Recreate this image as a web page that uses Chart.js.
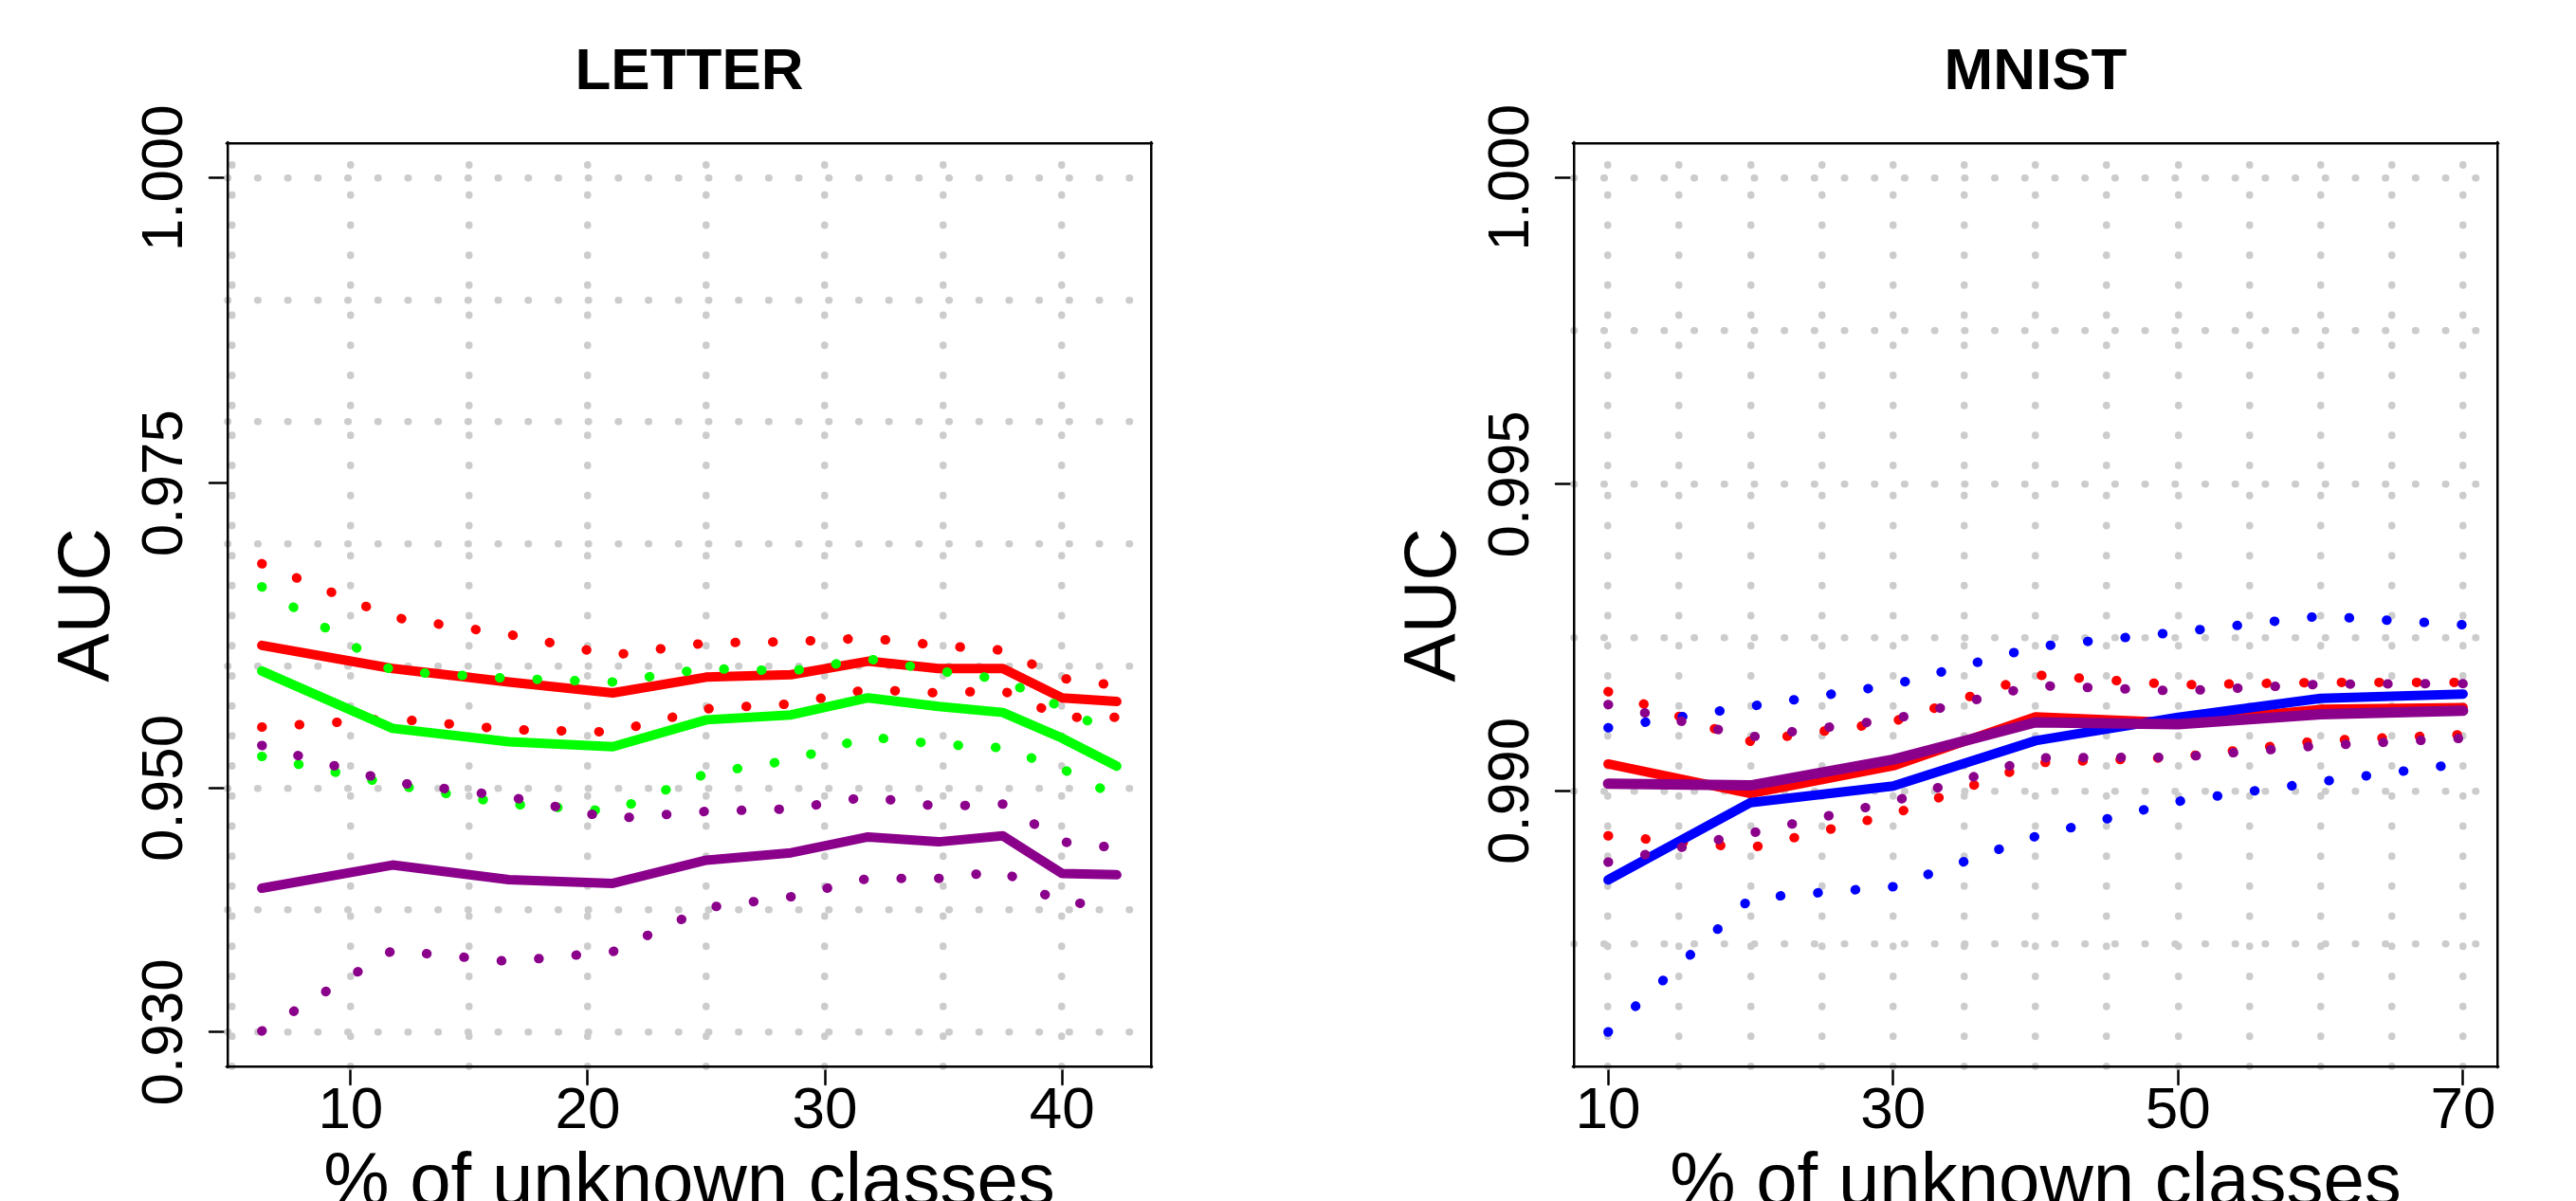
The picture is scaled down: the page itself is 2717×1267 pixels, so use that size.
<!DOCTYPE html>
<html>
<head>
<meta charset="utf-8">
<script src="https://cdn.jsdelivr.net/npm/chart.js@4.4.1/dist/chart.umd.min.js"></script>
<style>
html,body{margin:0;padding:0;background:#ffffff;overflow:hidden;width:2717px;height:1267px;}
#c1{position:absolute;left:0;top:0;}
#c2{position:absolute;left:1358px;top:0;}
</style>
</head>
<body>
<canvas id="c1" width="1358" height="1267"></canvas>
<canvas id="c2" width="1359" height="1267"></canvas>
<script>
// ---------------- LETTER ----------------
const letterX = [6.25, 11.7647, 16.6667, 21.0526, 25, 28.5714, 31.8182, 34.7826, 37.5, 40, 42.3077];
const letterRedMean    = [0.9617, 0.9598, 0.9587, 0.9578, 0.9591, 0.9593, 0.9604, 0.9598, 0.9598, 0.9574, 0.9571];
const letterRedUpper   = [0.9684, 0.9640, 0.9626, 0.9609, 0.9619, 0.9620, 0.9623, 0.9617, 0.9613, 0.9590, 0.9584];
const letterRedLower   = [0.9550, 0.9557, 0.9548, 0.9546, 0.9565, 0.9569, 0.9581, 0.9578, 0.9580, 0.9558, 0.9558];
const letterGreenMean  = [0.9596, 0.9549, 0.9538, 0.9534, 0.9556, 0.9560, 0.9574, 0.9567, 0.9562, 0.9541, 0.9518];
const letterGreenUpper = [0.9665, 0.9596, 0.9590, 0.9587, 0.9598, 0.9596, 0.9606, 0.9596, 0.9589, 0.9566, 0.9543];
const letterGreenLower = [0.9526, 0.9503, 0.9487, 0.9481, 0.9512, 0.9523, 0.9542, 0.9536, 0.9533, 0.9516, 0.9493];
const letterPurpleMean = [0.9418, 0.9437, 0.9425, 0.9422, 0.9441, 0.9447, 0.9460, 0.9456, 0.9461, 0.9430, 0.9429];
const letterPurpleUpper= [0.9535, 0.9505, 0.9493, 0.9475, 0.9481, 0.9483, 0.9493, 0.9485, 0.9487, 0.9456, 0.9451];
const letterPurpleLower= [0.9301, 0.9367, 0.9358, 0.9366, 0.9402, 0.9411, 0.9426, 0.9426, 0.9432, 0.9405, 0.9407];
const letterXTicks = [10, 20, 30, 40];
const letterYTicks = [0.93, 0.95, 0.975, 1.0];
const letterYTickLabels = ['0.930', '0.950', '0.975', '1.000'];
const letterXGrid = [5, 10, 15, 20, 25, 30, 35, 40];
const letterYGrid = [0.93, 0.94, 0.95, 0.96, 0.97, 0.98, 0.99, 1.0];

// ---------------- MNIST ----------------
const mnistX = [10, 20, 30, 40, 50, 60, 70];
const mnistRedMean    = [0.99044, 0.98996, 0.99041, 0.99121, 0.99111, 0.99133, 0.99136];
const mnistRedUpper   = [0.99162, 0.99081, 0.99113, 0.99189, 0.99173, 0.99177, 0.99177];
const mnistRedLower   = [0.98927, 0.98907, 0.98962, 0.99046, 0.99055, 0.99082, 0.99092];
const mnistBlueMean   = [0.98855, 0.98981, 0.99008, 0.99082, 0.99120, 0.99151, 0.99158];
const mnistBlueUpper  = [0.99103, 0.99138, 0.99173, 0.99235, 0.99259, 0.99285, 0.99271];
const mnistBlueLower  = [0.98607, 0.98825, 0.98844, 0.98926, 0.98983, 0.99015, 0.99045];
const mnistPurpleMean = [0.99012, 0.99009, 0.99051, 0.99112, 0.99109, 0.99125, 0.99131];
const mnistPurpleUpper= [0.99141, 0.99088, 0.99117, 0.99172, 0.99163, 0.99174, 0.99175];
const mnistPurpleLower= [0.98884, 0.98931, 0.98983, 0.99054, 0.99055, 0.99074, 0.99086];
const mnistXTicks = [10, 30, 50, 70];
const mnistYTicks = [0.99, 0.995, 1.0];
const mnistYTickLabels = ['0.990', '0.995', '1.000'];
const mnistXGrid = [10, 15, 20, 25, 30, 35, 40, 45, 50, 55, 60, 65, 70];
const mnistYGrid = [0.9875, 0.99, 0.9925, 0.995, 0.9975, 1.0];

const RED = '#ff0000', GREEN = '#00ff00', BLUE = '#0000ff', PURPLE = '#8b008b';
const FONT = "'Liberation Sans', Arial, Helvetica, sans-serif";

function pts(xs, ys) { return xs.map((x, i) => ({x: x, y: ys[i]})); }
function solid(xs, ys, color, order, w) {
  return {data: pts(xs, ys), borderColor: color, backgroundColor: color, borderWidth: w || 10,
    borderCapStyle: 'round', borderJoinStyle: 'round', pointRadius: 0, pointHoverRadius: 0,
    tension: 0, fill: false, order: order};
}
function dotted(xs, ys, color, order) {
  return {data: pts(xs, ys), borderColor: color, backgroundColor: color, borderWidth: 10,
    borderDash: [0.5, 39.1], borderDashOffset: 0,
    borderCapStyle: 'round', borderJoinStyle: 'round', pointRadius: 0, pointHoverRadius: 0,
    tension: 0, fill: false, order: order};
}
function zeroPad(s) { s.paddingLeft = 0; s.paddingRight = 0; s.paddingTop = 0; s.paddingBottom = 0; }
function setTicks(vals) { return function (s) { s.ticks = vals.map(v => ({value: v})); }; }

const roundCap = {id: 'roundCap', beforeDraw(chart) { chart.ctx.lineCap = 'round'; }};

function makeChart(id, o) {
  return new Chart(document.getElementById(id), {
    type: 'line',
    data: {datasets: o.datasets},
    options: {
      responsive: false, animation: false, devicePixelRatio: 1, events: [],
      layout: {padding: {left: 0, top: 0, right: o.rightPad, bottom: 0}},
      plugins: {
        legend: {display: false},
        tooltip: {enabled: false},
        title: {display: true, text: o.title, fullSize: false, color: '#000',
          font: {family: FONT, size: 62, weight: 'bold'}, padding: {top: 40, bottom: 37.3}}
      },
      scales: {
        x: {
          type: 'linear', position: 'bottom', min: o.xMin, max: o.xMax, bounds: 'data',
          afterBuildTicks: setTicks(o.xTicks),
          ticks: {autoSkip: false, color: '#000', font: {family: FONT, size: 62}, padding: -8.7,
            minRotation: 0, maxRotation: 0, callback: v => String(v)},
          grid: {display: true, drawOnChartArea: false, drawTicks: true, tickLength: 19, tickWidth: 2.5, tickColor: '#000'},
          border: {display: true, color: '#000', width: 2.5},
          title: {display: true, text: '% of unknown classes', color: '#000',
            font: {family: FONT, size: 78}, padding: {top: 0, bottom: -29.6}},
          afterFit: s => { s.height = 142; zeroPad(s); }
        },
        y: {
          type: 'linear', position: 'left', min: o.yMin, max: o.yMax, bounds: 'data',
          afterBuildTicks: setTicks(o.yTicks),
          ticks: {autoSkip: false, color: '#000', font: {family: FONT, size: 62}, padding: -31.75,
            minRotation: 90, maxRotation: 90, crossAlign: 'center',
            callback: (v, i) => o.yTickLabels[i]},
          grid: {display: true, drawOnChartArea: false, drawTicks: true, tickLength: 19, tickWidth: 2.5, tickColor: '#000'},
          border: {display: true, color: '#000', width: 2.5},
          title: {display: true, text: 'AUC', color: '#000',
            font: {family: FONT, size: 77}, padding: {top: o.aucPad, bottom: 0}},
          afterFit: s => { s.width = o.yAxisW; zeroPad(s); }
        },
        xg: {
          type: 'linear', position: 'bottom', min: o.xMin, max: o.xMax, bounds: 'data',
          afterBuildTicks: setTicks(o.xGrid),
          ticks: {display: false},
          grid: {display: true, drawOnChartArea: true, drawTicks: false, color: '#cccccc', lineWidth: 7.5},
          border: {display: false, dash: [0.5, 31.2], dashOffset: 9.6},
          afterFit: s => { s.height = 0; zeroPad(s); }
        },
        yg: {
          type: 'linear', position: 'left', min: o.yMin, max: o.yMax, bounds: 'data',
          afterBuildTicks: setTicks(o.yGrid),
          ticks: {display: false},
          grid: {display: true, drawOnChartArea: true, drawTicks: false, color: '#cccccc', lineWidth: 7.5},
          border: {display: false, dash: [0.5, 31.2], dashOffset: 0},
          afterFit: s => { s.width = 0; zeroPad(s); }
        },
        xt: {
          type: 'linear', position: 'top', display: true,
          ticks: {display: false},
          grid: {display: false, drawTicks: false},
          border: {display: true, color: '#000', width: 2.5},
          afterFit: s => { s.height = 0; zeroPad(s); }
        },
        yr: {
          type: 'linear', position: 'right', display: true,
          ticks: {display: false},
          grid: {display: false, drawTicks: false},
          border: {display: true, color: '#000', width: 2.5},
          afterFit: s => { s.width = 0; zeroPad(s); }
        }
      }
    },
    plugins: [roundCap]
  });
}

makeChart('c1', {
  title: 'LETTER',
  xMin: 4.8077, xMax: 43.75, yMin: 0.9272, yMax: 1.0028,
  xTicks: letterXTicks, yTicks: letterYTicks, yTickLabels: letterYTickLabels,
  xGrid: letterXGrid, yGrid: letterYGrid,
  yAxisW: 240, rightPad: 144, aucPad: 47.1,
  datasets: [
    solid(letterX, letterRedMean, RED, 3),
    dotted(letterX, letterRedUpper, RED, 3),
    dotted(letterX, letterRedLower, RED, 3),
    solid(letterX, letterGreenMean, GREEN, 2),
    dotted(letterX, letterGreenUpper, GREEN, 2),
    dotted(letterX, letterGreenLower, GREEN, 2),
    solid(letterX, letterPurpleMean, PURPLE, 1),
    dotted(letterX, letterPurpleUpper, PURPLE, 1),
    dotted(letterX, letterPurpleLower, PURPLE, 1)
  ]
});

makeChart('c2', {
  title: 'MNIST',
  xMin: 7.6, xMax: 72.4, yMin: 0.98551, yMax: 1.00055,
  xTicks: mnistXTicks, yTicks: mnistYTicks, yTickLabels: mnistYTickLabels,
  xGrid: mnistXGrid, yGrid: mnistYGrid,
  yAxisW: 302, rightPad: 83, aucPad: 109.1,
  datasets: [
    solid(mnistX, mnistRedMean, RED, 3),
    dotted(mnistX, mnistRedUpper, RED, 3),
    dotted(mnistX, mnistRedLower, RED, 3),
    solid(mnistX, mnistBlueMean, BLUE, 2),
    dotted(mnistX, mnistBlueUpper, BLUE, 2),
    dotted(mnistX, mnistBlueLower, BLUE, 2),
    solid(mnistX, mnistPurpleMean, PURPLE, 1, 11),
    dotted(mnistX, mnistPurpleUpper, PURPLE, 1),
    dotted(mnistX, mnistPurpleLower, PURPLE, 1)
  ]
});
</script>
</body>
</html>
